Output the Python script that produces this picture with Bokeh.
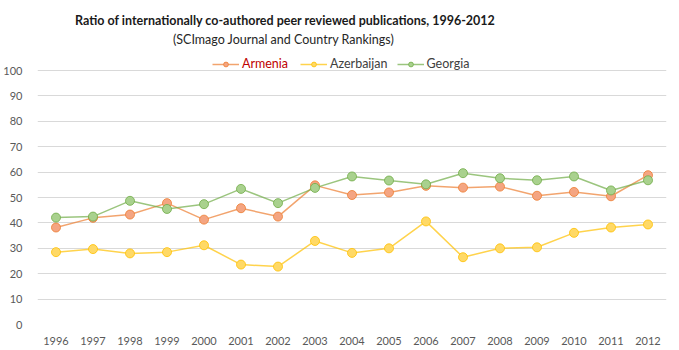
from bokeh.plotting import figure
from bokeh.models import Label, Legend, LegendItem, FixedTicker
from bokeh.embed import file_html
from bokeh.resources import INLINE

years = [str(y) for y in range(1996, 2013)]
armenia = [38.2, 42.0, 43.3, 47.8, 41.3, 45.8, 42.5, 54.8, 51.0, 52.0, 54.6, 53.9, 54.3, 50.7, 52.2, 50.5, 58.8]
azerbaijan = [28.5, 29.7, 28.0, 28.5, 31.2, 23.6, 22.8, 32.9, 28.2, 30.0, 40.6, 26.5, 30.0, 30.4, 36.1, 38.2, 39.4]
georgia = [42.1, 42.5, 48.7, 45.5, 47.4, 53.4, 47.8, 53.8, 58.3, 56.7, 55.2, 59.6, 57.6, 56.8, 58.3, 52.8, 56.8]
yticks = list(range(0, 101, 10))
title = "Ratio of internationally co-authored peer reviewed  publications, 1996-2012"
subtitle = "(SCImago Journal  and Country  Rankings)"

FONT = "Lato"

p = figure(width=679, height=350, x_range=years, y_range=(0, 127.6),
           output_backend="svg", toolbar_location=None,
           min_border_left=33, min_border_right=13, min_border_top=0, min_border_bottom=26)
p.outline_line_color = None
p.background_fill_color = "white"

series = [
    ("Armenia", armenia, "#ED7D31", "#F4A582"),
    ("Azerbaijan", azerbaijan, "#FFC000", "#FFD966"),
    ("Georgia", georgia, "#70AD47", "#A9D18E"),
]
items = []
for name, vals, dark, light in series:
    l = p.line(years, vals, line_color=dark, line_alpha=0.7, line_width=1.5)
    s = p.scatter(years, vals, size=9, fill_color=light, line_color=dark, line_alpha=0.8, line_width=1)
    items.append(LegendItem(label=name, renderers=[l, s]))

common = dict(orientation="horizontal", label_text_font=FONT, label_text_font_size="12.5px",
              glyph_width=27, glyph_height=12, spacing=9, label_standoff=3,
              border_line_color=None, background_fill_alpha=0, padding=0, margin=0)
leg1 = Legend(items=items[:1], location=(175, 253), label_text_color="#C00000", **common)
leg2 = Legend(items=items[1:], location=(263, 253), label_text_color="#404040", **common)
p.add_layout(leg1)
p.add_layout(leg2)

p.add_layout(Label(x=6.74, y=119.9, text=title, text_align="center", text_baseline="middle",
                   text_font=FONT, text_font_size="12.5px", text_font_style="bold", text_color="#1a1a1a"))
p.add_layout(Label(x=6.74, y=112.4, text=subtitle, text_align="center", text_baseline="middle",
                   text_font=FONT, text_font_size="12.5px", text_color="#262626"))

p.yaxis.ticker = FixedTicker(ticks=yticks)
for ax in (p.xaxis[0], p.yaxis[0]):
    ax.axis_line_color = None
    ax.major_tick_line_color = None
    ax.minor_tick_line_color = None
    ax.major_label_text_font = FONT
    ax.major_label_text_font_size = "11px"
    ax.major_label_text_color = "#595959"
p.yaxis.major_label_standoff = 9
p.xaxis.major_label_standoff = 6
p.xgrid.grid_line_color = None
p.ygrid.grid_line_color = "#D9D9D9"
p.ygrid.grid_line_width = 1

open("out.html", "w").write(file_html(p, INLINE))
